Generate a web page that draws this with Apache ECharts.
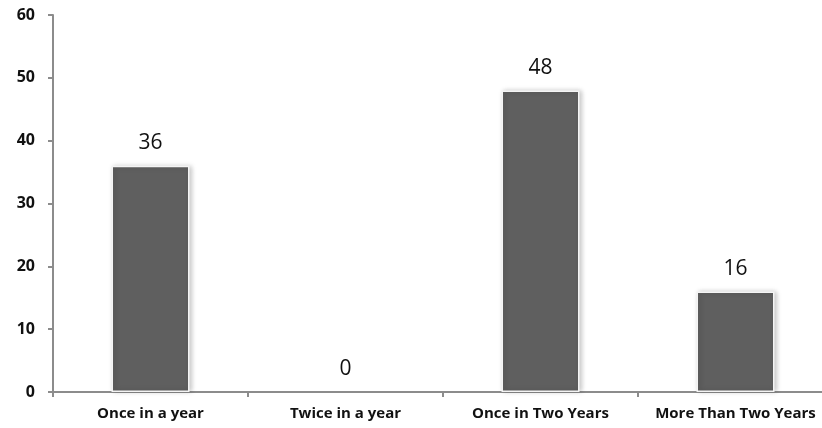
<!DOCTYPE html>
<html>
<head>
<meta charset="utf-8">
<script src="https://cdn.jsdelivr.net/npm/echarts@6/dist/echarts.min.js"></script>
<style>
  html, body { margin: 0; padding: 0; background: #fff; }
  #chart { width: 822px; height: 428px; }
</style>
</head>
<body>
<div id="chart"></div>
<script>
const categories = ['Once in a year', 'Twice in a year', 'Once in Two Years', 'More Than Two Years'];
const values = [36, 0, 48, 16];
const yTicks = [0, 10, 20, 30, 40, 50, 60];

// zero-height bars get no frame or shadow
const barData = values.map(v => v === 0
  ? { value: v, itemStyle: { borderWidth: 0, shadowBlur: 0, shadowColor: 'transparent' } }
  : v);

const chart = echarts.init(document.getElementById('chart'));
chart.setOption({
  animation: false,
  grid: {
    left: 53, width: 780, top: 15, bottom: 36,
    containLabel: false, outerBoundsMode: 'none'
  },
  xAxis: {
    type: 'category',
    data: categories,
    axisLine: { lineStyle: { color: '#8c8c8c', width: 2 } },
    axisTick: { show: true, length: 5, lineStyle: { color: '#8c8c8c', width: 2 } },
    axisLabel: {
      interval: 0, hideOverlap: false,
      color: '#111', fontFamily: 'Open Sans', fontWeight: 'bold', fontSize: 15, margin: 14
    }
  },
  yAxis: {
    type: 'value',
    min: yTicks[0],
    max: yTicks[yTicks.length - 1],
    interval: 10,
    splitLine: { show: false },
    axisLine: { show: true, lineStyle: { color: '#8c8c8c', width: 2 } },
    axisTick: { show: true, length: 5, lineStyle: { color: '#8c8c8c', width: 2 } },
    axisLabel: {
      color: '#111', fontFamily: 'Open Sans', fontWeight: 'bold', fontSize: 16, margin: 18
    }
  },
  series: [{
    type: 'bar',
    data: barData,
    barWidth: 78,
    itemStyle: {
      color: '#5f5f5f',
      borderColor: '#f4f4f4',
      borderWidth: 1.5,
      shadowColor: 'rgba(0,0,0,0.22)',
      shadowBlur: 5,
      shadowOffsetX: 2
    },
    label: {
      show: true,
      position: 'top',
      distance: 12,
      color: '#111',
      fontFamily: 'Open Sans',
      fontSize: 21
    }
  }]
});
</script>
</body>
</html>
